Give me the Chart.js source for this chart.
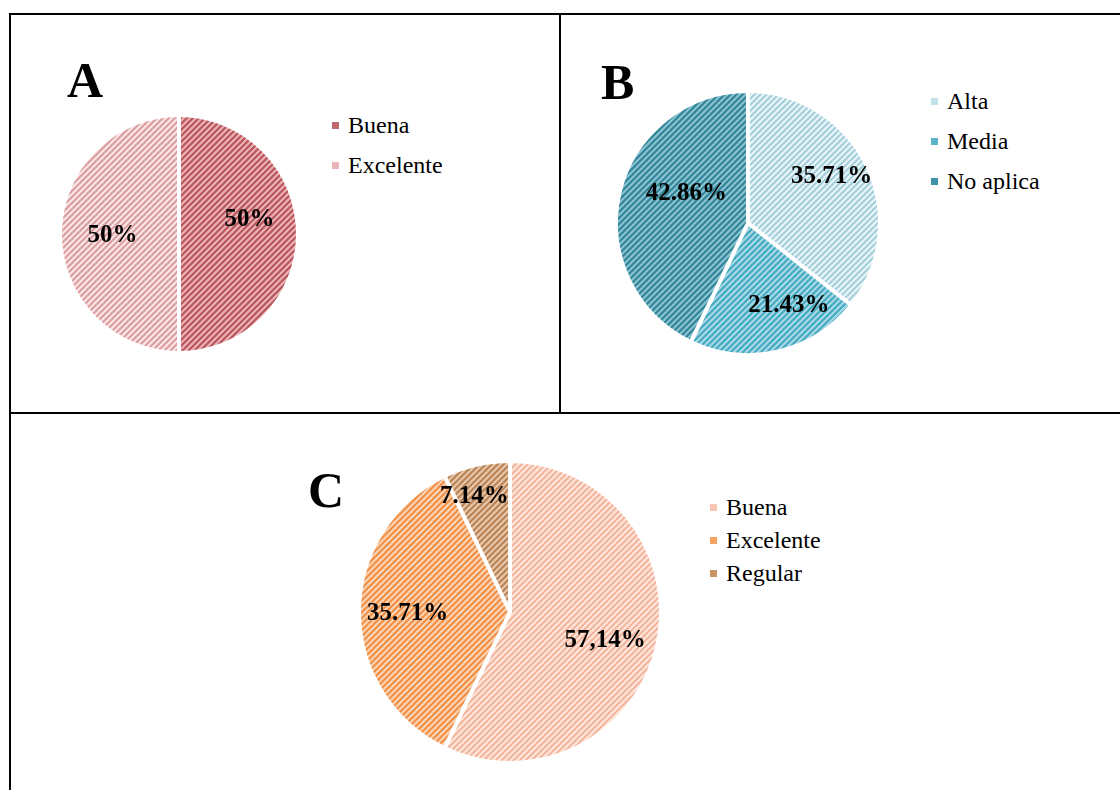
<!DOCTYPE html>
<html>
<head>
<meta charset="utf-8">
<title>Valoraciones por panel</title>
<script src="https://cdn.jsdelivr.net/npm/chart.js@4.4.1/dist/chart.umd.min.js"></script>
<style>
  html, body { margin: 0; padding: 0; background: #fff; }
  #page {
    position: relative; width: 1120px; height: 790px; overflow: hidden;
    font-family: "Liberation Serif", "Times New Roman", serif; color: #000;
  }
  .rule { position: absolute; background: #000; }
  .panel-letter { position: absolute; font-weight: bold; font-size: 50px; line-height: 1; white-space: nowrap; }
  .legend-text { position: absolute; font-size: 24px; line-height: 1; white-space: nowrap; }
  .swatch { position: absolute; width: 7px; height: 7px; }
  canvas { position: absolute; }
</style>
</head>
<body>
<div id="page"></div>
<script>
// ---- Panel A ----
const aCategories = ['Buena', 'Excelente'];
const aValues = [50, 50];
const aLabels = ['50%', '50%'];

// ---- Panel B ----
const bCategories = ['Alta', 'Media', 'No aplica'];
const bValues = [35.71, 21.43, 42.86];
const bLabels = ['35.71%', '21.43%', '42.86%'];

// ---- Panel C ----
const cCategories = ['Buena', 'Excelente', 'Regular'];
const cValues = [57.14, 35.71, 7.14];
const cLabels = ['57,14%', '35.71%', '7.14%'];

// Appearance of each panel: hatch colours, legend layout, label placement.
const panels = [
  {
    letter: 'A', categories: aCategories, values: aValues, labels: aLabels,
    center: [179, 234], radius: 117,
    letterPos: [67, 97],
    stripe: ['#b9525a', '#dd9c9e'], ground: ['#e9b3b5', '#f9e6e6'],
    swatch: ['#c2676d', '#e9b7b8'],
    legend: { x: 332, baseline: 133, step: 40 },
    labelRadius: 0.62, nudge: [[-2, -14], [6, 2]]
  },
  {
    letter: 'B', categories: bCategories, values: bValues, labels: bLabels,
    center: [747.5, 223], radius: 130,
    letterPos: [601, 99],
    stripe: ['#a3cfdc', '#43a9c1', '#2f8499'], ground: ['#eaf5f8', '#a8d9e5', '#8ac2cf'],
    swatch: ['#c3e1ea', '#5ab5ca', '#3f93a8'],
    legend: { x: 931, baseline: 109, step: 40 },
    labelRadius: 0.62, nudge: [[11, -11], [23, 4], [17, -12]]
  },
  {
    letter: 'C', categories: cCategories, values: cValues, labels: cLabels,
    center: [510, 612], radius: 149,
    letterPos: [308, 507],
    stripe: ['#f4b49b', '#f08f45', '#ba8252'], ground: ['#fde6dc', '#fbd3b2', '#e5c6aa'],
    swatch: ['#f7c5b1', '#f3a262', '#c99468'],
    legend: { x: 710, baseline: 515, step: 33 },
    labelRadius: 0.62, nudge: [[5, 8], [-10, 2], [-15, -25]]
  }
];

const page = document.getElementById('page');

// Table rules framing the three panels
[
  [9, 13, 1111, 2],
  [9, 13, 2, 777],
  [559, 13, 2, 400],
  [9, 412, 1111, 2]
].forEach(([l, t, w, h]) => {
  const d = document.createElement('div');
  d.className = 'rule';
  Object.assign(d.style, { left: l + 'px', top: t + 'px', width: w + 'px', height: h + 'px' });
  page.appendChild(d);
});

// Upward diagonal hatch used as a slice fill
function hatch(ground, stripe) {
  const s = 6;
  const c = document.createElement('canvas');
  c.width = s; c.height = s;
  const g = c.getContext('2d');
  g.fillStyle = ground;
  g.fillRect(0, 0, s, s);
  g.strokeStyle = stripe;
  g.lineWidth = 2;
  g.beginPath();
  g.moveTo(-1, s + 1); g.lineTo(s + 1, -1);
  g.moveTo(-1, 1); g.lineTo(1, -1);
  g.moveTo(s - 1, s + 1); g.lineTo(s + 1, s - 1);
  g.stroke();
  return g.createPattern(c, 'repeat');
}

// Percentage text placed inside each slice
const sliceLabels = {
  id: 'sliceLabels',
  afterDatasetsDraw(chart, args, opts) {
    const { ctx } = chart;
    const meta = chart.getDatasetMeta(0);
    ctx.save();
    ctx.font = 'bold 25px "Liberation Serif"';
    ctx.fillStyle = '#000';
    ctx.textAlign = 'center';
    ctx.textBaseline = 'middle';
    meta.data.forEach((arc, i) => {
      const p = arc.getProps(['x', 'y', 'startAngle', 'endAngle', 'outerRadius'], true);
      const mid = (p.startAngle + p.endAngle) / 2;
      const rr = (p.outerRadius - 2) * opts.radius;
      const n = opts.nudge[i] || [0, 0];
      ctx.fillText(opts.texts[i], p.x + Math.cos(mid) * rr + n[0], p.y + Math.sin(mid) * rr + n[1]);
    });
    ctx.restore();
  }
};

const GAP = 4;

panels.forEach((p) => {
  // panel letter
  const fs = 50;
  const L = document.createElement('div');
  L.className = 'panel-letter';
  L.textContent = p.letter;
  L.style.left = p.letterPos[0] + 'px';
  L.style.top = (p.letterPos[1] - 0.8375 * fs) + 'px';
  page.appendChild(L);

  // pie canvas
  const size = 2 * (p.radius + GAP) + 16;
  const cv = document.createElement('canvas');
  cv.width = size; cv.height = size;
  cv.style.left = (p.center[0] - size / 2) + 'px';
  cv.style.top = (p.center[1] - size / 2) + 'px';
  cv.style.width = size + 'px'; cv.style.height = size + 'px';
  page.appendChild(cv);

  const fills = p.values.map((_, i) => hatch(p.ground[i], p.stripe[i]));

  new Chart(cv, {
    type: 'pie',
    data: {
      labels: p.categories,
      datasets: [{
        data: p.values,
        backgroundColor: fills,
        borderColor: '#ffffff',
        borderWidth: GAP,
        radius: p.radius + GAP / 2
      }]
    },
    options: {
      responsive: false,
      animation: false,
      events: [],
      layout: { padding: 0 },
      plugins: {
        legend: { display: false },
        tooltip: { enabled: false },
        sliceLabels: { texts: p.labels, radius: p.labelRadius, nudge: p.nudge }
      }
    },
    plugins: [sliceLabels]
  });

  // legend entries
  const lfs = 24;
  p.categories.forEach((name, i) => {
    const base = p.legend.baseline + i * p.legend.step;
    const sw = document.createElement('div');
    sw.className = 'swatch';
    sw.style.background = p.swatch[i];
    sw.style.left = p.legend.x + 'px';
    sw.style.top = (base - 11) + 'px';
    page.appendChild(sw);

    const t = document.createElement('div');
    t.className = 'legend-text';
    t.textContent = name;
    t.style.left = (p.legend.x + 16) + 'px';
    t.style.top = (base - 0.8375 * lfs) + 'px';
    page.appendChild(t);
  });
});
</script>
</body>
</html>
